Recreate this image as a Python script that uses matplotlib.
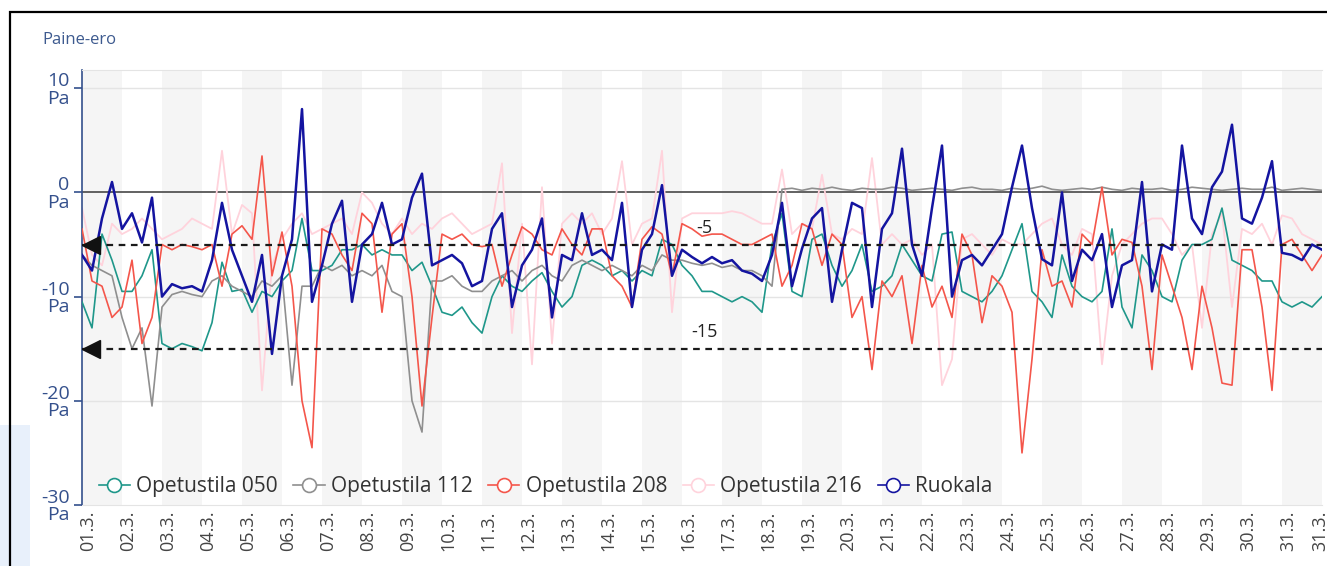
import numpy as np
import matplotlib.pyplot as plt
import matplotlib.transforms as mtransforms
from matplotlib.lines import Line2D
from matplotlib.patches import Rectangle

plt.rcParams['font.family'] = ['Open Sans', 'DejaVu Sans']

# Pressure difference readings (Pa), one every 6 h from 01.3. 00:00 to 01.4. 00:00
samples_per_day = 4

opetustila_050 = [
    -10.5, -13, -4, -6.5, -9.5, -9.5, -8, -5.5, -14.5, -15, -14.5, -14.8, -15.2, -12.5, -6.7, -9.5,
    -9.3, -11.5, -9.5, -10, -8.5, -7.5, -2.5, -7.5, -7.5, -7, -5.5, -5.5, -5, -6, -5.5, -6,
    -6, -7.5, -6.7, -9, -11.5, -11.8, -11, -12.5, -13.5, -10, -8, -9, -9.5, -8.5, -7.7, -9.5,
    -11, -10, -7, -6.5, -7, -8, -7.5, -8.5, -7.5, -8, -4.5, -5, -7, -8, -9.5,
    -9.5, -10, -10.5, -10, -10.5, -11.5, -5, -2, -9.5, -10, -4.5, -4, -7, -9, -7.5, -5,
    -9.5, -9, -8, -5, -6.5, -8, -8.5, -4, -3.8, -9.5, -10, -10.5, -9.5, -8, -5.5,
    -3, -9.5, -10.5, -12, -6, -9, -10, -10.5, -9.5, -3.5, -11, -13, -6, -7.5, -10, -10.5,
    -6.5, -5, -5, -4.5, -1.5, -6.5, -7, -7.5, -8.5, -8.5, -10.5, -11, -10.5, -11, -10,
]

opetustila_112 = [
    -6, -7, -7.5, -8, -12, -15, -13, -20.5, -11, -9.8, -9.5, -9.8, -10, -8.5, -8, -9,
    -9.5, -10, -8.5, -9, -8, -18.5, -9, -9, -7, -7.5, -7, -8, -7.5, -8, -7, -9.5,
    -10, -20, -23, -8.5, -8.5, -8, -9, -9.5, -9.5, -8.5, -8, -7.5, -8.5, -7.5, -7, -8,
    -8.5, -7, -6.5, -7, -7.5, -7, -7.5, -8, -7, -7.5, -6, -6.5, -6.5, -6.8, -7,
    -6.8, -7.2, -7, -7.5, -7.5, -8, -9,
    0.3, 0.4, 0.2, 0.4, 0.3, 0.5, 0.3, 0.2, 0.4, 0.3, 0.3, 0.5, 0.4, 0.2, 0.3, 0.4,
    0.3, 0.2, 0.4, 0.5, 0.3, 0.3, 0.2, 0.4, 0.3, 0.4, 0.6, 0.3, 0.2, 0.3, 0.4, 0.3,
    0.5, 0.3, 0.2, 0.4, 0.3, 0.3, 0.4, 0.2, 0.3, 0.5, 0.4, 0.3, 0.2, 0.3, 0.4, 0.3,
    0.3, 0.5, 0.2, 0.3, 0.4, 0.3, 0.2,
]

opetustila_208 = [
    -3.5, -8.5, -9, -12, -11, -6.5, -14.5, -12, -5, -5.5, -5, -5.2, -5.5, -5, -9, -4,
    -3.2, -4.5, 3.5, -8, -3.8, -9, -20, -24.5, -3.5, -4, -6, -7.5, -2, -3, -11.5, -4,
    -3, -10, -20.5, -12, -4, -4.5, -4, -5, -5.2, -5, -9, -6, -3.3, -4, -5.5, -6,
    -3.5, -5, -6, -3.5, -3.5, -8, -9, -11, -4.5, -3.3, -4, -8, -3, -3.5, -4.2,
    -4, -4, -4.5, -5, -5, -4.5, -4, -9, -7, -3, -3.5, -7, -4, -5, -12, -10,
    -17, -8.5, -10, -8, -14.5, -7, -11, -9, -12, -4, -6, -12.5, -8, -9, -11.5,
    -25, -16, -5.5, -9, -8.5, -11, -4, -5, 0.5, -6, -4.5, -4.8, -9, -17, -6, -9,
    -12, -17, -9, -13, -18.3, -18.5, -5.5, -5.5, -11, -19, -5, -4.5, -6, -7.5, -6,
]

opetustila_216 = [
    -1.5, -6, -7, -3, -4, -3.5, -2.5, -3.5, -4.5, -4, -3.5, -2.5, -3, -3.5, 4, -4,
    -1.2, -2, -19, -7, -4.5, -3, -2, -4, -3.5, -3, -2.5, -4, 0, -1, -3, -4,
    -2.5, -4, -3, -3.5, -2.5, -2, -3, -4, -3.5, -3, 2.8, -13.5, -3, -16.5, 0.5, -14.5,
    -3, -2, -3, -2, -4, -2.5, 3, -5, -3, -2.5, 4, -11.5, -2.5, -2, -2,
    -2, -2, -1.8, -2, -2.5, -3, -3, 2.2, -4, -3, -3.5, 1.7, -4, -4.5, -3.5, -4,
    3.3, -5, -4, -5, -4.5, -6, -5, -18.5, -16, -4.5, -4, -5, -6, -4.5, -5,
    -5, -4, -3, -2.5, -5, -6, -3.5, -4, -16.5, -8, -5, -4, -3, -2.5, -2.5, -4,
    -6, -5, -13, -4, -2, -11, -3.5, -4, -3, -5, -2.2, -2.5, -4, -4.5, -5,
]

ruokala = [
    -6, -7.5, -2.5, 1.0, -3.5, -2, -4.8, -0.5, -10, -8.8, -9.2, -9, -9.5, -6.5, -1, -5.5,
    -8, -10.5, -6, -15.5, -8, -4.5, 8.0, -10.5, -7, -3, -0.8, -10.5, -5, -4, -1, -5,
    -4.5, -0.5, 1.8, -7, -6.5, -6, -6.8, -9, -8.5, -3.5, -2, -11, -7, -5.5, -2.5, -12,
    -6, -6.5, -2, -6, -5.5, -6.5, -1, -11, -5.5, -4, 0.7, -8, -5.5, -6.2, -6.8,
    -6.2, -6.8, -6.5, -7.5, -7.8, -8.5, -6, -1, -9, -5.4, -2.5, -1.5, -10.5, -5.5, -1, -1.5,
    -11, -3.5, -2, 4.2, -5, -8, -1.5, 4.5, -10, -6.5, -6, -7, -5.5, -4, 0.5,
    4.5, -1.5, -6.4, -7, 0, -8.5, -5.5, -6.5, -4, -11, -7, -6.5, 1, -9.5, -5, -5.5,
    4.5, -2.5, -4, 0.5, 2.0, 6.5, -2.5, -3, -0.5, 3.0, -5.8, -6, -6.5, -5, -5.5,
]

series_names = ['Opetustila 050', 'Opetustila 112', 'Opetustila 208', 'Opetustila 216', 'Ruokala']
series_values = [opetustila_050, opetustila_112, opetustila_208, opetustila_216, ruokala]
series_colors = ['#1f978a', '#8f8f8f', '#f4564b', '#ffd3dc', '#1414a0']
series_widths = [1.2, 1.2, 1.2, 1.3, 1.8]
series_z = [3, 3, 3.2, 2.5, 4]

# limit lines
limits = [-5, -15]
limit_labels = ['-5', '-15']

y_ticks = [10, 0, -10, -20, -30]
day_labels = ['%02d.3.' % d for d in range(1, 32)] + ['31.3.']
day_ticks = list(range(31)) + [30.8]

fig = plt.figure(figsize=(13.27, 5.66), dpi=100)
ax = fig.add_axes([82 / 1327, 1 - 505 / 566, 1240 / 1327, 435 / 566])

# page bits around the chart
fig.add_artist(Rectangle((0, 0), 30 / 1327, 141 / 566, transform=fig.transFigure,
                         facecolor='#e8f0fb', edgecolor='none', zorder=-2))
fig.add_artist(Rectangle((10 / 1327, -0.1), 1.2, 1 - 12 / 566 + 0.1, transform=fig.transFigure,
                         fill=False, edgecolor='black', lw=1.6))

# alternating day bands
for d in range(0, 31, 2):
    ax.axvspan(d, d + 1, color='#f5f5f5', lw=0, zorder=0)

for v in [10, -10, -20]:
    ax.axhline(v, color='#e4e4e4', lw=1, zorder=0.5)
ax.axhline(0, color='#555555', lw=1.3, zorder=1)

for name, vals, col, lw, z in zip(series_names, series_values, series_colors, series_widths, series_z):
    t = np.arange(len(vals)) / samples_per_day
    ax.plot(t, vals, color=col, lw=lw, zorder=z)

for lim, lab in zip(limits, limit_labels):
    ax.axhline(lim, color='#1a1a1a', lw=1.6, ls=(0, (3, 2.5)), zorder=5)
    ax.plot([0.22], [lim], marker='<', ms=13, color='#111111', zorder=6, clip_on=False)
    ax.annotate(lab, (15.55, lim), xytext=(0, 12), textcoords='offset points',
                ha='center', va='center', fontsize=13, color='#222222', zorder=6)

ax.set_xlim(0, 31)
ax.set_ylim(-30, 11.75)

ax.set_yticks(y_ticks)
ax.set_yticklabels(['%d\nPa' % v for v in y_ticks], linespacing=0.95)
ax.tick_params(axis='y', colors='#34508c', labelsize=14, length=6, width=1.2, pad=3)

ax.set_xticks(day_ticks)
ax.set_xticklabels(day_labels, rotation=90)
ax.tick_params(axis='x', length=0, labelsize=13, labelcolor='#444444', pad=4)
offset = mtransforms.ScaledTranslation(6 / 100, 0, fig.dpi_scale_trans)
for lab in ax.get_xticklabels():
    lab.set_transform(lab.get_transform() + offset)

ax.spines['right'].set_visible(False)
ax.spines['left'].set_color('#34508c')
ax.spines['left'].set_linewidth(1.2)
ax.spines['top'].set_color('#e4e4e4')
ax.spines['bottom'].set_color('#e4e4e4')

fig.text(42 / 1327, 1 - 40 / 566, 'Paine-ero', fontsize=12, color='#3d5a8f', va='center')

handles = [Line2D([], [], color=c, lw=1.2, marker='o', markersize=10,
                  markerfacecolor='white', markeredgewidth=1.2) for c in series_colors]
ax.legend(handles, series_names, loc='center left', bbox_to_anchor=(0.005, 0.042), ncol=5,
          frameon=False, fontsize=15, handlelength=1.5, handletextpad=0.3,
          columnspacing=0.75, borderpad=0, labelcolor='#333333')

fig.savefig('out.png', dpi=100)
